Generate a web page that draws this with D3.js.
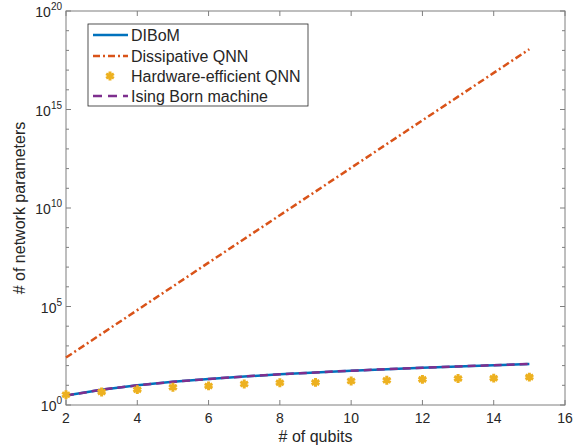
<!DOCTYPE html>
<html><head><meta charset="utf-8">
<script src="https://cdn.jsdelivr.net/npm/d3@7"></script>
<style>body{margin:0;background:#fff;} text{font-family:"Liberation Sans",Arial,Helvetica,sans-serif;fill:#262626;}</style>
</head><body><svg id="c" width="582" height="448"></svg>
<script>
const qubits = [2,3,4,5,6,7,8,9,10,11,12,13,14,15];
const dibom = [3,6,10,15,21,28,36,45,55,66,78,91,105,120];
const dissipative = [2.56e2,4.1e3,6.55e4,1.05e6,1.68e7,2.68e8,4.29e9,6.87e10,1.1e12,1.76e13,2.81e14,4.5e15,7.2e16,1.15e18];
const hardware = [3.3,4.6,6,8,9.3,11.6,13.4,14,16.5,18,20,22,23,26];
const ising = [3,6,10,15,21,28,36,45,55,66,78,91,105,120];
const xTicks = [2,4,6,8,10,12,14,16];
const yLabelExps = [0,5,10,15,20];
const seriesNames = ["DIBoM","Dissipative QNN","Hardware-efficient QNN","Ising Born machine"];

const svg = d3.select("#c");
const L=66,R=565,T=11,B=405;
const x = d3.scaleLinear().domain([2,16]).range([L,R]);
const y = d3.scaleLog().domain([1,1e20]).range([B,T]);

const g = svg.append("g");
g.append("rect").attr("x",L).attr("y",T).attr("width",R-L).attr("height",B-T)
 .attr("fill","none").attr("stroke","#7f7f7f").attr("stroke-width",1);

xTicks.forEach(t=>{
  const px = x(t);
  g.append("line").attr("x1",px).attr("x2",px).attr("y1",B).attr("y2",B-5).attr("stroke","#7f7f7f");
  g.append("line").attr("x1",px).attr("x2",px).attr("y1",T).attr("y2",T+5).attr("stroke","#7f7f7f");
  g.append("text").attr("x",px).attr("y",B+18).attr("text-anchor","middle").attr("font-size",14).text(t);
});
d3.range(0,21).forEach(e=>{
  const py = y(Math.pow(10,e));
  const major = yLabelExps.includes(e);
  const len = major?5:3;
  g.append("line").attr("x1",L).attr("x2",L+len).attr("y1",py).attr("y2",py).attr("stroke","#7f7f7f");
  g.append("line").attr("x1",R).attr("x2",R-len).attr("y1",py).attr("y2",py).attr("stroke","#7f7f7f");
});
yLabelExps.forEach(e=>{
  const py = y(Math.pow(10,e));
  const t = g.append("text").attr("x",L-4).attr("y",py+6).attr("text-anchor","end").attr("font-size",14);
  t.append("tspan").text("10");
  t.append("tspan").attr("dy",-7).attr("font-size",10).text(e);
});
g.append("text").attr("x",(L+R)/2).attr("y",442).attr("text-anchor","middle").attr("font-size",16).text("# of qubits");
g.append("text").attr("transform",`translate(25,${(T+B)/2}) rotate(-90)`).attr("text-anchor","middle").attr("font-size",16).text("# of network parameters");

const line = d3.line().x((d,i)=>x(qubits[i])).y(d=>y(d));
const plot = svg.append("g");
plot.append("path").datum(dibom).attr("d",line).attr("fill","none").attr("stroke","#0072BD").attr("stroke-width",2.5);
plot.append("path").datum(dissipative).attr("d",line).attr("fill","none").attr("stroke","#D95319").attr("stroke-width",2.5).attr("stroke-dasharray","7,3,2,3");
plot.append("path").datum(ising).attr("d",line).attr("fill","none").attr("stroke","#7E2F8E").attr("stroke-width",2.5).attr("stroke-dasharray","8,5");
const star = d3.symbol().type(d3.symbolAsterisk).size(55);
plot.selectAll(".m").data(hardware).enter().append("path")
  .attr("transform",(d,i)=>`translate(${x(qubits[i])},${y(d)})`)
  .attr("d",star).attr("fill","none").attr("stroke","#EDB120").attr("stroke-width",3);

const lg = svg.append("g");
lg.append("rect").attr("x",88).attr("y",24).attr("width",220).attr("height",82).attr("fill","#fff").attr("stroke","#262626").attr("stroke-width",0.8);
const ys=[35,56,76,96];
lg.append("line").attr("x1",93).attr("x2",128).attr("y1",ys[0]).attr("y2",ys[0]).attr("stroke","#0072BD").attr("stroke-width",2.5);
lg.append("line").attr("x1",93).attr("x2",128).attr("y1",ys[1]).attr("y2",ys[1]).attr("stroke","#D95319").attr("stroke-width",2.5).attr("stroke-dasharray","7,3,2,3");
lg.append("path").attr("transform",`translate(110,${ys[2]})`).attr("d",star).attr("fill","none").attr("stroke","#EDB120").attr("stroke-width",3);
lg.append("line").attr("x1",93).attr("x2",128).attr("y1",ys[3]).attr("y2",ys[3]).attr("stroke","#7E2F8E").attr("stroke-width",2.5).attr("stroke-dasharray","9,6");
seriesNames.forEach((n,i)=>{
  lg.append("text").attr("x",131).attr("y",ys[i]+6).attr("font-size",16).text(n);
});
</script></body></html>
